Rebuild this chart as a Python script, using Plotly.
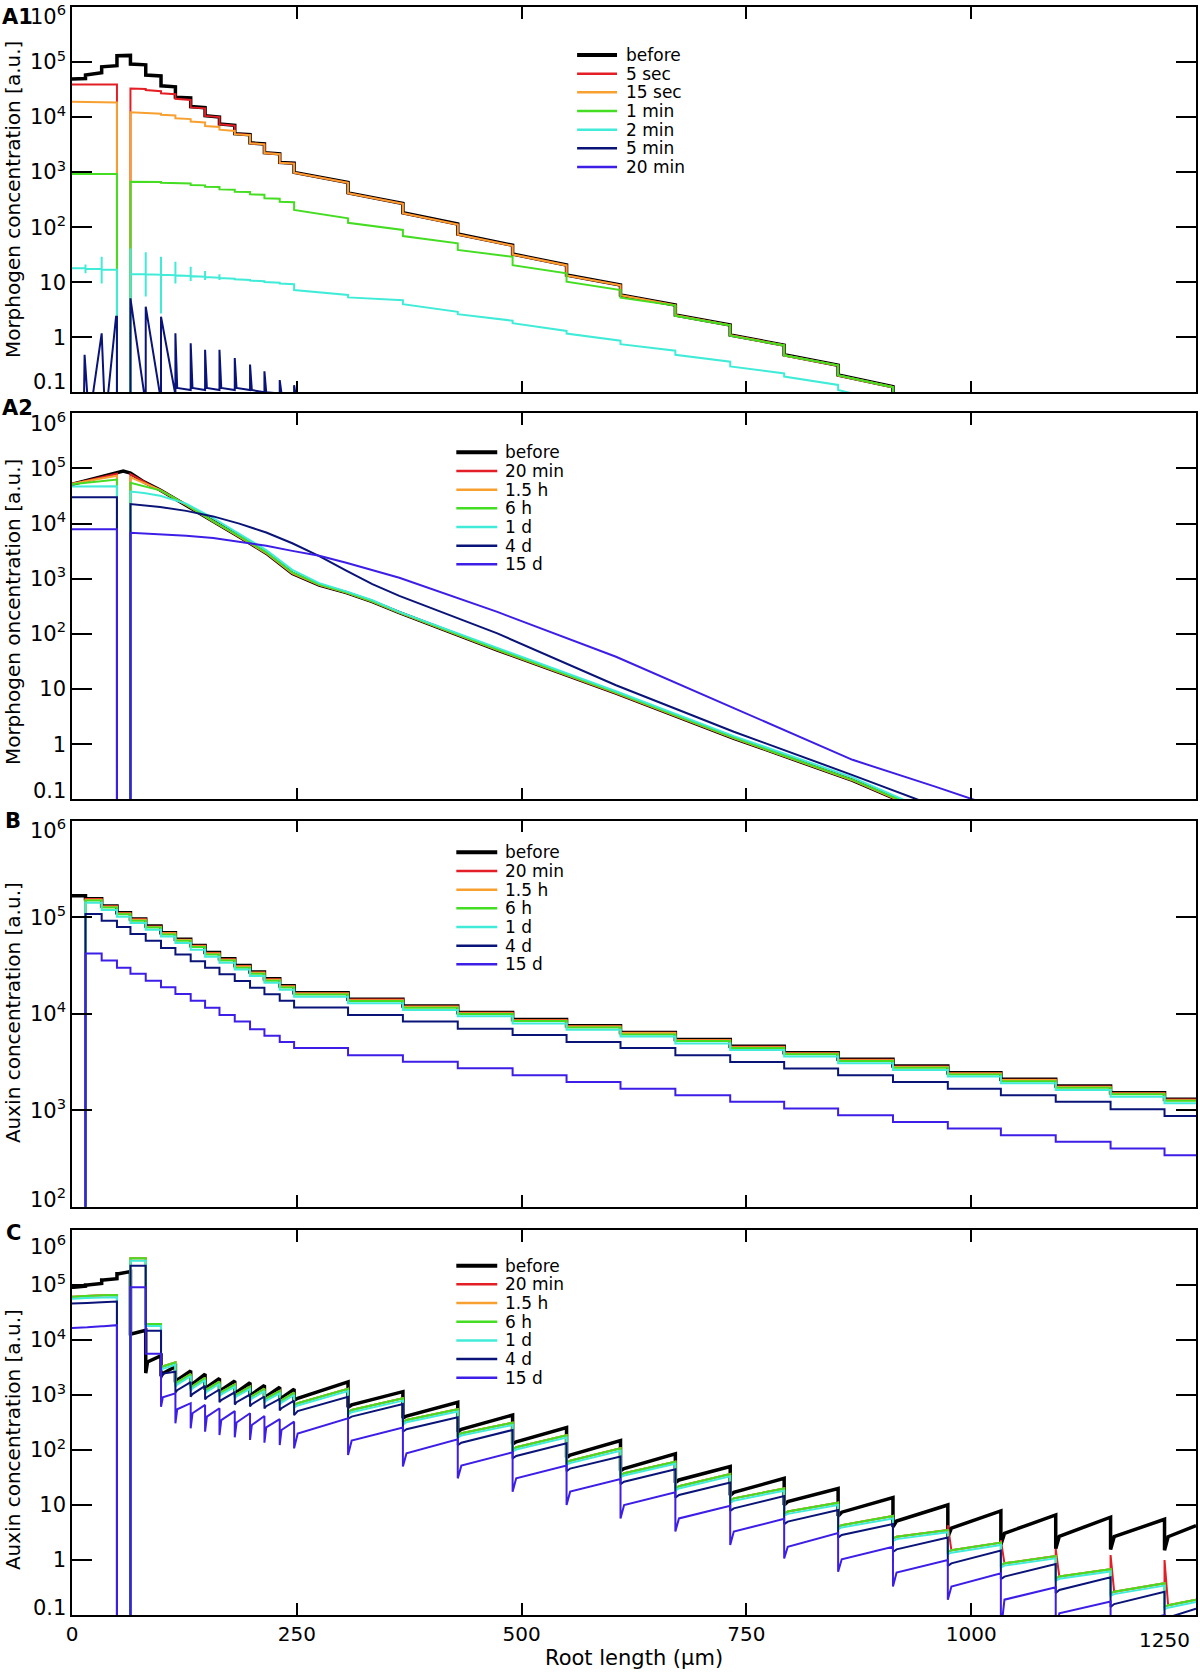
import plotly.graph_objects as go
from plotly.subplots import make_subplots

# cell boundaries along the root (um)
edges = [0, 15, 33, 50, 65, 82, 99, 115, 132, 148, 164, 181, 198, 214, 231, 247,
         307, 368, 429, 490, 550, 610, 671, 732, 792, 852, 913, 974, 1033, 1094,
         1155, 1215, 1250]

labels_A1 = ["before", "5 sec", "15 sec", "1 min", "2 min", "5 min", "20 min"]
labels_time = ["before", "20 min", "1.5 h", "6 h", "1 d", "4 d", "15 d"]
line_colors = ["#000000", "#e31e24", "#f7a030", "#44dd22", "#40ecd8", "#0a1478", "#3c1ee6"]
line_widths = [3.5, 2, 2, 2, 2, 2, 2]

# ---- A1: (start, end) value of each cell, cells 0-15 ... 913-974
A1_before = [(4.9e4, 5.0e4), (5.8e4, 6.4e4), (8.2e4, 8.6e4), (1.3e5, 1.32e5), (9.2e4, 8.9e4),
             (5.8e4, 5.6e4), (3.7e4, 3.55e4), (2.3e4, 2.24e4), (1.55e4, 1.48e4), (1.06e4, 1.0e4),
             (7.5e3, 7.1e3), (5.0e3, 4.8e3), (3.4e3, 3.25e3), (2.25e3, 2.15e3), (1.5e3, 1.45e3),
             (990, 650), (420, 270), (183, 114), (75, 47), (32.5, 20.5), (13.5, 8.9), (5.85, 3.85),
             (2.54, 1.67), (1.1, 0.72), (0.48, 0.31), (0.206, 0.126), (0.085, 0.055)]
A1_5sec = [(3.9e4, 3.9e4), (3.9e4, 3.9e4), (3.9e4, 3.9e4), (1e-3, 1e-3), (3.3e4, 3.25e4),
           (3.1e4, 2.95e4), (2.7e4, 2.6e4), (2.15e4, 2.05e4), (1.5e4, 1.44e4), (1.05e4, 1.0e4),
           (7.4e3, 7.0e3), (4.95e3, 4.75e3), (3.35e3, 3.2e3), (2.22e3, 2.12e3), (1.48e3, 1.43e3),
           (975, 640), (415, 266), (180, 112), (74, 46), (32, 20.2), (13.3, 8.8), (5.8, 3.8),
           (2.5, 1.65), (1.09, 0.71), (0.47, 0.305), (0.203, 0.124), (0.084, 0.054)]
A1_15sec = [(1.9e4, 1.9e4), (1.9e4, 1.9e4), (1.9e4, 1.85e4), (1e-3, 1e-3), (1.22e4, 1.2e4),
            (1.17e4, 1.15e4), (1.1e4, 1.07e4), (9.5e3, 9.2e3), (8.3e3, 8.0e3), (6.9e3, 6.6e3),
            (5.9e3, 5.6e3), (4.9e3, 4.7e3), (3.35e3, 3.2e3), (2.22e3, 2.12e3), (1.48e3, 1.43e3),
            (975, 640), (415, 266), (180, 112), (74, 46), (32, 20.2), (13.3, 8.8), (5.8, 3.8),
            (2.5, 1.65), (1.09, 0.71), (0.47, 0.305), (0.203, 0.124), (0.084, 0.054)]
A1_1min = [(925, 925), (925, 925), (925, 920), (1e-3, 1e-3), (670, 670), (670, 665), (643, 640),
           (625, 620), (583, 575), (543, 535), (486, 480), (441, 435), (395, 390), (334, 330),
           (290, 285), (205, 145), (120, 89), (69, 51), (38.5, 29), (20.4, 14.5), (10.2, 7.2),
           (5.25, 3.76), (2.45, 1.64), (1.07, 0.71), (0.47, 0.31), (0.204, 0.124), (0.083, 0.054)]
A1_2min_x = [0, 15, 15, 15, 15, 33, 33, 33, 33, 50, 50, 65, 65, 65, 82, 82, 82, 82, 99, 99, 99, 99,
             115, 115, 115, 115, 132, 132, 132, 132, 148, 148, 148, 148, 164, 164, 164, 164,
             181, 181, 198, 198, 214, 214, 231, 231, 247, 247, 307, 307, 368, 368, 429, 429,
             490, 490, 550, 550, 610, 610, 671, 671, 732, 732, 792, 792, 852, 852, 880]
A1_2min_y = [17.9, 17.9, 21, 14.5, 17.6, 17.4, 29, 9.5, 17, 16.8, 1e-3, 1e-3, 41, 14.1,
             14.0, 35, 5.5, 13.9, 13.7, 29, 2.7, 13.6, 13.4, 23.6, 9.5, 13.3, 13.0, 19, 10.5, 12.9,
             12.6, 16, 11, 12.4, 12.1, 14, 11, 11.9, 11.6, 11.3, 11.0, 10.7, 10.4, 10.1, 9.8, 9.5,
             9.2, 7.2, 5.85, 5.3, 4.7, 4.0, 2.9, 2.63, 2.0, 1.8, 1.3, 1.17, 0.865, 0.75, 0.57, 0.48,
             0.36, 0.295, 0.22, 0.193, 0.136, 0.11, 0.085]
A1_5min_x = [0, 13, 14, 19, 33, 37, 49, 50, 50, 65, 65, 82, 82, 99, 99, 115, 115, 117, 132, 132,
             134, 148, 148, 150, 164, 164, 166, 181, 181, 183, 198, 198, 200, 214, 214, 216,
             231, 231, 233, 247, 247, 249, 262]
A1_5min_y = [0.03, 0.03, 0.48, 0.03, 1.18, 0.03, 2.36, 2.36, 1e-3, 1e-3, 5.1, 0.06, 3.6, 0.07,
             2.36, 0.09, 1.18, 0.12, 0.11, 0.78, 0.12, 0.11, 0.59, 0.12, 0.11, 0.59, 0.12, 0.11,
             0.42, 0.12, 0.11, 0.32, 0.11, 0.1, 0.24, 0.1, 0.095, 0.167, 0.095, 0.09, 0.135,
             0.085, 0.05]

# ---- A2: smooth profiles
A2_x = [0, 30, 50, 50, 57, 65, 65, 80, 98, 127, 157, 186, 216, 245, 275, 305, 334, 364,
        473, 605, 736, 868, 960, 1010]
A2_before = [5.15e4, 6.9e4, 8.2e4, 8.2e4, 9.0e4, 8.2e4, 8.2e4, 5.7e4, 4.07e4, 2.17e4, 1.09e4,
             5.8e3, 2.9e3, 1.25e3, 770, 560, 385, 243, 51, 8.4, 1.28, 0.22, 0.05, 0.025]
A2_20min = [5.2e4, 6.8e4, 8.0e4, 1e-3, 1e-3, 1e-3, 7.9e4, 5.8e4, 4.07e4, 2.17e4, 1.09e4,
            5.8e3, 2.9e3, 1.25e3, 770, 560, 385, 243, 51, 8.4, 1.28, 0.22, 0.05, 0.025]
A2_1_5h = [5.3e4, 6.4e4, 7.4e4, 1e-3, 1e-3, 1e-3, 6.9e4, 5.4e4, 4.1e4, 2.18e4, 1.1e4,
           5.85e3, 2.92e3, 1.26e3, 775, 563, 387, 244, 51.5, 8.5, 1.29, 0.222, 0.05, 0.025]
A2_6h = [5.15e4, 5.8e4, 6.3e4, 1e-3, 1e-3, 1e-3, 5.5e4, 4.7e4, 4.0e4, 2.2e4, 1.1e4,
         5.9e3, 3.0e3, 1.3e3, 780, 570, 390, 246, 52, 8.6, 1.3, 0.225, 0.052, 0.026]
A2_1d = [4.7e4, 4.72e4, 4.75e4, 1e-3, 1e-3, 1e-3, 3.8e4, 3.6e4, 3.2e4, 2.3e4, 1.25e4,
         6.6e3, 3.3e3, 1.45e3, 830, 590, 410, 250, 56, 9.1, 1.4, 0.25, 0.055, 0.028]
A2_4d = [3.0e4, 3.0e4, 3.0e4, 1e-3, 1e-3, 1e-3, 2.26e4, 2.12e4, 2.0e4, 1.7e4, 1.35e4,
         1.0e4, 6.9e3, 4.4e3, 2.57e3, 1.4e3, 800, 490, 102, 11.7, 1.68, 0.275, 0.074, 0.037]
A2_15d = [7.9e3, 7.9e3, 7.9e3, 1e-3, 1e-3, 1e-3, 6.8e3, 6.6e3, 6.5e3, 6.0e3, 5.5e3,
          4.7e3, 3.95e3, 3.2e3, 2.6e3, 1.95e3, 1.45e3, 1.04e3, 250, 38.5, 4.5, 0.52, 0.17, 0.09]

# ---- B: one value per cell
B_before = [1.67e5, 1.55e5, 1.31e5, 1.11e5, 9.6e4, 8.1e4, 6.9e4, 5.9e4, 5.1e4, 4.3e4, 3.7e4,
            3.15e4, 2.7e4, 2.3e4, 1.95e4, 1.65e4, 1.41e4, 1.2e4, 1.03e4, 8.7e3, 7.5e3, 6.4e3,
            5.4e3, 4.6e3, 3.95e3, 3.37e3, 2.87e3, 2.45e3, 2.09e3, 1.78e3, 1.52e3, 1.3e3]
B_20min = [1e-3, 1.54e5, 1.3e5, 1.1e5, 9.5e4, 8.0e4, 6.85e4, 5.85e4, 5.05e4, 4.25e4, 3.66e4,
           3.12e4, 2.67e4, 2.28e4, 1.93e4, 1.63e4, 1.4e4, 1.19e4, 1.02e4, 8.6e3, 7.4e3, 6.35e3,
           5.35e3, 4.55e3, 3.9e3, 3.33e3, 2.84e3, 2.42e3, 2.07e3, 1.76e3, 1.5e3, 1.29e3]
B_1_5h = [1e-3, 1.52e5, 1.28e5, 1.09e5, 9.4e4, 7.9e4, 6.8e4, 5.8e4, 5.0e4, 4.2e4, 3.63e4,
          3.09e4, 2.65e4, 2.25e4, 1.91e4, 1.62e4, 1.38e4, 1.18e4, 1.01e4, 8.5e3, 7.35e3, 6.3e3,
          5.3e3, 4.5e3, 3.87e3, 3.3e3, 2.81e3, 2.4e3, 2.05e3, 1.74e3, 1.49e3, 1.27e3]
B_6h = [1e-3, 1.49e5, 1.26e5, 1.07e5, 9.2e4, 7.8e4, 6.6e4, 5.7e4, 4.9e4, 4.1e4, 3.55e4,
        3.0e4, 2.6e4, 2.2e4, 1.87e4, 1.58e4, 1.35e4, 1.15e4, 9.9e3, 8.4e3, 7.2e3, 6.1e3,
        5.2e3, 4.4e3, 3.8e3, 3.24e3, 2.76e3, 2.35e3, 2.0e3, 1.71e3, 1.46e3, 1.25e3]
B_1d = [1e-3, 1.41e5, 1.19e5, 1.01e5, 8.7e4, 7.4e4, 6.3e4, 5.4e4, 4.6e4, 3.9e4, 3.37e4,
        2.87e4, 2.46e4, 2.09e4, 1.77e4, 1.5e4, 1.28e4, 1.09e4, 9.4e3, 7.9e3, 6.8e3, 5.8e3,
        4.9e3, 4.2e3, 3.6e3, 3.07e3, 2.61e3, 2.23e3, 1.9e3, 1.62e3, 1.38e3, 1.18e3]
B_4d = [1e-3, 1.08e5, 9.2e4, 7.9e4, 6.7e4, 5.7e4, 4.8e4, 4.1e4, 3.5e4, 3.0e4, 2.56e4,
        2.18e4, 1.86e4, 1.59e4, 1.36e4, 1.16e4, 9.7e3, 8.3e3, 7.0e3, 6.0e3, 5.1e3, 4.4e3,
        3.7e3, 3.16e3, 2.7e3, 2.3e3, 1.96e3, 1.67e3, 1.43e3, 1.22e3, 1.02e3, 870]
B_15d = [1e-3, 4.2e4, 3.55e4, 3.0e4, 2.6e4, 2.2e4, 1.88e4, 1.6e4, 1.36e4, 1.15e4, 9.7e3,
         8.3e3, 6.9e3, 5.9e3, 5.1e3, 4.4e3, 3.7e3, 3.18e3, 2.72e3, 2.3e3, 1.96e3, 1.67e3,
         1.43e3, 1.22e3, 1.04e3, 885, 755, 645, 550, 470, 400, 341]

# ---- C: (value at cell edge, value just after edge, value at cell end) per cell
C_before = [(9.1e4, 9.1e4, 9.5e4), (1.0e5, 1.0e5, 1.07e5), (1.23e5, 1.23e5, 1.3e5),
            (1.6e5, 1.6e5, 1.75e5), (1.3e4, 1.3e4, 1.5e4), (2.5e3, 4.0e3, 5.2e3),
            (2.2e3, 2.45e3, 3.3e3), (1.7e3, 1.87e3, 2.75e3), (1.45e3, 1.58e3, 2.4e3),
            (1.25e3, 1.38e3, 2.0e3), (1.12e3, 1.23e3, 1.8e3), (1.02e3, 1.12e3, 1.67e3),
            (940, 1.03e3, 1.5e3), (860, 940, 1.38e3), (800, 880, 1.28e3), (800, 870, 1.73e3),
            (600, 660, 1.15e3), (380, 415, 740), (215, 238, 432), (128, 141, 255),
            (73, 81, 148), (42, 46, 85), (25.5, 28.5, 50), (15, 17, 30.5), (10, 11.5, 20),
            (6.3, 7.4, 13.6), (4.0, 5.1, 10), (2.6, 3.8, 7.8), (1.9, 3.05, 6.6),
            (1.6, 2.7, 6.0), (1.55, 2.65, 5.5), (1.5, 2.65, 4.2)]
C_20min = [(6.1e4, 6.1e4, 6.3e4), (6.3e4, 6.3e4, 6.5e4), (6.5e4, 6.5e4, 6.6e4),
           (1e-3, 1e-3, 1e-3), (3.05e5, 3.05e5, 3.05e5), (1.95e4, 1.95e4, 1.95e4),
           (3.0e3, 3.3e3, 3.9e3), (1.55e3, 1.7e3, 2.4e3), (1.3e3, 1.45e3, 2.05e3),
           (1.15e3, 1.27e3, 1.75e3), (1.03e3, 1.13e3, 1.55e3), (930, 1.03e3, 1.42e3),
           (860, 950, 1.3e3), (790, 870, 1.18e3), (730, 800, 1.1e3), (650, 710, 1.3e3),
           (480, 533, 870), (320, 351, 550), (185, 201, 314), (103, 112, 185), (59, 64, 107),
           (35, 37.7, 61.4), (20, 22, 36.6), (12, 13.2, 20), (7.0, 7.6, 11), (4.0, 4.3, 6.3),
           (2.45, 2.65, 3.5), (4.3, 1.5, 2.07), (2.3, 0.87, 1.18), (1.6, 0.5, 0.68),
           (1.23, 0.265, 0.377), (1.0, 0.15, 0.19)]
C_1_5h = [(6.1e4, 6.1e4, 6.3e4), (6.3e4, 6.3e4, 6.5e4), (6.5e4, 6.5e4, 6.6e4),
          (1e-3, 1e-3, 1e-3), (3.05e5, 3.05e5, 3.05e5), (1.95e4, 1.95e4, 1.95e4),
          (3.0e3, 3.3e3, 3.9e3), (1.55e3, 1.7e3, 2.4e3), (1.3e3, 1.45e3, 2.05e3),
          (1.15e3, 1.27e3, 1.75e3), (1.03e3, 1.13e3, 1.55e3), (930, 1.03e3, 1.42e3),
          (860, 950, 1.3e3), (790, 870, 1.18e3), (730, 800, 1.1e3), (650, 710, 1.3e3),
          (480, 533, 870), (320, 351, 550), (185, 201, 314), (103, 112, 185), (59, 64, 107),
          (35, 37.7, 61.4), (20, 22, 36.6), (12, 13.2, 20), (7.0, 7.6, 11), (4.0, 4.3, 6.3),
          (2.45, 2.65, 3.5), (1.4, 1.5, 2.07), (0.8, 0.87, 1.18), (0.46, 0.5, 0.68),
          (0.245, 0.265, 0.377), (0.14, 0.15, 0.19)]
C_6h = [(6.1e4, 6.1e4, 6.3e4), (6.3e4, 6.3e4, 6.5e4), (6.5e4, 6.5e4, 6.6e4),
        (1e-3, 1e-3, 1e-3), (3.05e5, 3.05e5, 3.05e5), (1.95e4, 1.95e4, 1.95e4),
        (3.0e3, 3.3e3, 3.9e3), (1.55e3, 1.7e3, 2.4e3), (1.3e3, 1.45e3, 2.05e3),
        (1.15e3, 1.27e3, 1.75e3), (1.03e3, 1.13e3, 1.55e3), (930, 1.03e3, 1.42e3),
        (860, 950, 1.3e3), (790, 870, 1.18e3), (730, 800, 1.1e3), (650, 710, 1.3e3),
        (480, 533, 870), (320, 351, 550), (185, 201, 314), (103, 112, 185), (59, 64, 107),
        (35, 37.7, 61.4), (20, 22, 36.6), (12, 13.2, 20), (7.0, 7.6, 11), (4.0, 4.3, 6.3),
        (2.45, 2.65, 3.5), (1.4, 1.5, 2.07), (0.8, 0.87, 1.18), (0.46, 0.5, 0.68),
        (0.245, 0.265, 0.377), (0.14, 0.15, 0.19)]
C_1d = [(5.6e4, 5.6e4, 5.8e4), (5.8e4, 5.8e4, 5.9e4), (5.9e4, 5.9e4, 6.0e4),
        (1e-3, 1e-3, 1e-3), (2.75e5, 2.75e5, 2.75e5), (1.8e4, 1.8e4, 1.8e4),
        (2.7e3, 3.0e3, 3.55e3), (1.4e3, 1.55e3, 2.2e3), (1.18e3, 1.32e3, 1.86e3),
        (1.05e3, 1.15e3, 1.6e3), (940, 1.03e3, 1.41e3), (850, 940, 1.29e3),
        (780, 860, 1.18e3), (720, 790, 1.07e3), (665, 730, 1.0e3), (590, 645, 1.18e3),
        (435, 485, 790), (290, 320, 500), (168, 183, 285), (94, 102, 168), (54, 58, 97),
        (32, 34.3, 56), (18.2, 20, 33.3), (10.9, 12, 18.2), (6.4, 6.9, 10), (3.6, 3.9, 5.7),
        (2.2, 2.4, 3.2), (1.27, 1.36, 1.88), (0.73, 0.79, 1.07), (0.42, 0.455, 0.62),
        (0.223, 0.24, 0.343), (0.127, 0.136, 0.173)]
C_4d = [(4.6e4, 4.6e4, 4.7e4), (4.7e4, 4.7e4, 4.85e4), (4.85e4, 4.85e4, 5.0e4),
        (1e-3, 1e-3, 1e-3), (2.24e5, 2.24e5, 2.24e5), (1.48e4, 1.48e4, 1.48e4),
        (2.0e3, 2.45e3, 2.65e3), (1.1e3, 1.22e3, 1.72e3), (930, 1.04e3, 1.47e3),
        (830, 910, 1.26e3), (740, 810, 1.12e3), (670, 740, 1.02e3), (620, 680, 940),
        (570, 625, 850), (525, 575, 790), (430, 510, 930), (370, 404, 686), (215, 238, 393),
        (123, 136, 231), (70, 78, 132), (41, 46, 76), (24, 26.5, 44.5), (13.5, 15.2, 25.5),
        (7.8, 8.7, 14.6), (4.5, 5.0, 8.1), (2.55, 2.85, 4.5), (1.4, 1.56, 2.57),
        (0.78, 0.87, 1.48), (0.45, 0.5, 0.845), (0.25, 0.285, 0.485), (0.14, 0.158, 0.265),
        (0.08, 0.09, 0.13)]
C_15d = [(1.65e4, 1.65e4, 1.7e4), (1.7e4, 1.7e4, 1.78e4), (1.78e4, 1.78e4, 1.86e4),
         (1e-3, 1e-3, 1e-3), (9.1e4, 9.1e4, 9.1e4), (5.6e3, 5.6e3, 5.6e3),
         (610, 910, 1.07e3), (305, 550, 710), (248, 465, 660), (215, 404, 575),
         (187, 350, 510), (170, 316, 465), (152, 285, 415), (136, 257, 363), (123, 231, 327),
         (107, 200, 377), (81, 148, 255), (50, 87, 156), (30.5, 52, 91), (17.5, 30.5, 52),
         (10, 17.5, 29.7), (5.7, 10, 17), (3.3, 5.7, 9.7), (1.87, 3.3, 5.6), (1.07, 1.74, 3.1),
         (0.61, 1.03, 1.74), (0.33, 0.59, 1.0), (0.19, 0.33, 0.575), (0.05, 0.19, 0.32),
         (0.05, 0.107, 0.175), (0.03, 0.06, 0.1), (0.02, 0.035, 0.055)]

# ---------------------------------------------------------------- figure
W, H = 1200, 1674
ML, MR, MT, MB = 72, 2, 7, 59


def px_x(p):
    return (p - ML) / (W - ML - MR)


def px_y(p):
    return (H - MB - p) / (H - MT - MB)


fig = make_subplots(rows=4, cols=1)


def add_line(row, x, y, i, shape="linear"):
    fig.add_trace(go.Scatter(x=x, y=y, mode="lines", showlegend=False, hoverinfo="skip",
                             line=dict(color=line_colors[i], width=line_widths[i], shape=shape)),
                  row=row, col=1)


def cells_two(vals):
    x, y = [], []
    for i, (s, e) in enumerate(vals):
        x += [edges[i], edges[i + 1]]
        y += [s, e]
    return x, y


def cells_three(vals):
    x, y = [], []
    for i, (lo, st, en) in enumerate(vals):
        a, b = edges[i], edges[i + 1]
        d = 2 if b - a < 30 else 4
        x += [a, a + d, b]
        y += [lo, st, en]
    return x, y


# A1
for i, s in enumerate([A1_before, A1_5sec, A1_15sec, A1_1min]):
    add_line(1, *cells_two(s), i)
add_line(1, A1_2min_x, A1_2min_y, 4)
add_line(1, A1_5min_x, A1_5min_y, 5)

# A2
for i, s in enumerate([A2_before, A2_20min, A2_1_5h, A2_6h, A2_1d, A2_4d, A2_15d]):
    add_line(2, A2_x, s, i)

# B
for i, s in enumerate([B_before, B_20min, B_1_5h, B_6h, B_1d, B_4d, B_15d]):
    add_line(3, edges, s + [s[-1]], i, shape="hv")

# C
for i, s in enumerate([C_before, C_20min, C_1_5h, C_6h, C_1d, C_4d, C_15d]):
    add_line(4, *cells_three(s), i)

font_family = "DejaVu Sans"
tick_font = dict(size=21, color="black")
domains = [[px_y(392.3), px_y(7)], [px_y(799.3), px_y(413.3)],
           [px_y(1206.7), px_y(820.7)], [px_y(1615), px_y(1230)]]
ylog_ranges = [[-1, 6], [-1, 6], [2, 6], [-1, 6]]
full_vals = [0.1, 1, 10, 100, 1e3, 1e4, 1e5, 1e6]
full_text = ["0.1", "1", "10", "10<sup>2</sup>", "10<sup>3</sup>", "10<sup>4</sup>",
             "10<sup>5</sup>", "10<sup>6</sup>"]
# labels at both ends of each y axis sit a little inside the frame
end_labels = [("10<sup>6</sup>", 15, "0.1", 382), ("10<sup>6</sup>", 422, "0.1", 791),
              ("10<sup>6</sup>", 829, "10<sup>2</sup>", 1198),
              ("10<sup>6</sup>", 1245, "0.1", 1608)]

for r in range(4):
    sfx = "" if r == 0 else str(r + 1)
    if r == 2:
        tv, tt = full_vals[3:], full_text[3:]
    else:
        tv, tt = full_vals, full_text
    fig.layout["yaxis" + sfx].update(
        type="log", range=ylog_ranges[r], domain=domains[r], tickvals=tv,
        ticktext=[""] + tt[1:-1] + [""],
        ticks="inside", ticklen=20, tickwidth=1.5, tickcolor="black",
        showline=True, linecolor="black", linewidth=1.5, mirror="ticks",
        showgrid=False, zeroline=False, tickfont=tick_font)
    fig.layout["xaxis" + sfx].update(
        range=[0, 1250], domain=[0, 1], tickvals=[0, 250, 500, 750, 1000, 1250],
        ticktext=["0", "250", "500", "750", "1000", ""],
        showticklabels=(r == 3), ticks="inside", ticklen=12, tickwidth=1.5,
        tickcolor="black", showline=True, linecolor="black", linewidth=1.5,
        mirror="ticks", showgrid=False, zeroline=False, tickfont=dict(size=20, color="black"))
    top_txt, top_y, bot_txt, bot_y = end_labels[r]
    for txt, py in [(top_txt, top_y), (bot_txt, bot_y)]:
        fig.add_annotation(xref="paper", yref="paper", x=px_x(68), y=px_y(py), text=txt,
                           showarrow=False, xanchor="right", yanchor="middle", font=tick_font)

# last x tick label is pulled inside the figure
fig.add_annotation(xref="paper", yref="paper", x=px_x(1166), y=px_y(1640), text="1250",
                   showarrow=False, xanchor="center", yanchor="middle",
                   font=dict(size=20, color="black"))

# legends
legend_spots = [(labels_A1, 578, 618, 625, 55.0),
                (labels_time, 457, 498, 504, 452.3),
                (labels_time, 457, 498, 504, 852.3),
                (labels_time, 457, 498, 504, 1265.7)]
for labels, x0, x1, xt, y0 in legend_spots:
    for i, lab in enumerate(labels):
        py = y0 + i * 18.67
        fig.add_shape(type="line", xref="paper", yref="paper", x0=px_x(x0), x1=px_x(x1),
                      y0=px_y(py), y1=px_y(py),
                      line=dict(color=line_colors[i], width=line_widths[i] + 0.5))
        fig.add_annotation(xref="paper", yref="paper", x=px_x(xt), y=px_y(py), text=lab,
                           showarrow=False, xanchor="left", yanchor="middle",
                           font=dict(size=17, color="black"))

# y titles
y_titles = [("Morphogen concentration [a.u.]", 200), ("Morphogen oncentration [a.u.]", 612),
            ("Auxin concentration [a.u.]", 1013), ("Auxin concentration [a.u.]", 1440)]
for txt, py in y_titles:
    fig.add_annotation(xref="paper", yref="paper", x=px_x(13), y=px_y(py), text=txt,
                       textangle=-90, showarrow=False, xanchor="center", yanchor="middle",
                       font=dict(size=20, color="black"))

# panel letters
for txt, pxl, py in [("A1", 0, 17), ("A2", 0, 408), ("B", 3, 821), ("C", 4, 1233)]:
    fig.add_annotation(xref="paper", yref="paper", x=px_x(pxl), y=px_y(py),
                       text="<b>" + txt + "</b>", showarrow=False, xanchor="left",
                       yanchor="middle", font=dict(size=21, color="black"))

fig.add_annotation(xref="paper", yref="paper", x=px_x(635), y=px_y(1658),
                   text="Root length (\u03bcm)", showarrow=False, xanchor="center",
                   yanchor="middle", font=dict(size=21, color="black"))

fig.update_layout(width=W, height=H, margin=dict(l=ML, r=MR, t=MT, b=MB),
                  paper_bgcolor="white", plot_bgcolor="white", showlegend=False,
                  font=dict(family=font_family, color="black"))

# the page body default margin would push the figure off the window
fig.write_html("out.html", config={"displayModeBar": False},
               post_script="document.body.style.margin='0px';"
                           "document.body.style.overflow='hidden';")
